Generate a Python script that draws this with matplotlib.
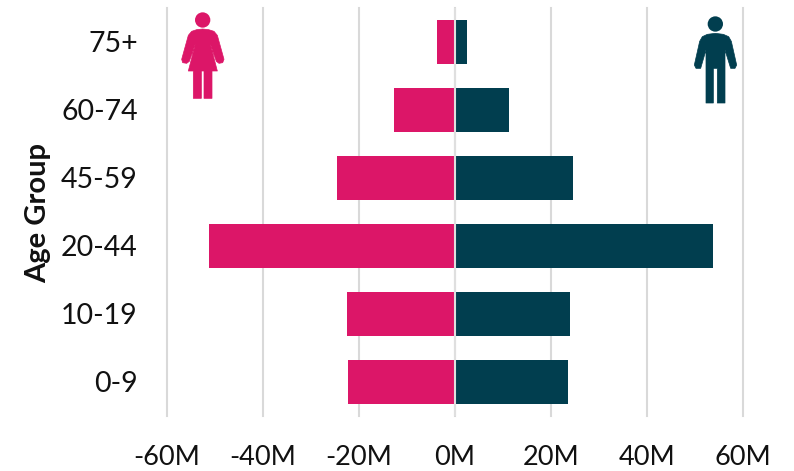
#!/usr/bin/env python3
import matplotlib
matplotlib.use('Agg')
import matplotlib.pyplot as plt
from matplotlib.patches import Circle, Polygon
from matplotlib.transforms import Affine2D

age_groups = ['0-9', '10-19', '20-44', '45-59', '60-74', '75+']
female = [-22.3, -22.5, -51.2, -24.6, -12.7, -3.75]
male = [23.5, 23.9, 53.7, 24.6, 11.2, 2.4]
x_ticks = [-60, -40, -20, 0, 20, 40, 60]
x_labels = ['-60M', '-40M', '-20M', '0M', '20M', '40M', '60M']

PINK = '#dc1668'
TEAL = '#013e4f'
W, H = 794, 471

plt.rcParams['font.family'] = ['Lato', 'DejaVu Sans']

fig = plt.figure(figsize=(W / 100, H / 100), dpi=100)
# axes box placed in pixels: x 167..743 spans -60M..60M, y 8..416
ax = fig.add_axes([167 / W, 1 - 416 / H, 576 / W, 408 / H])

ax.barh(age_groups, female, height=0.66, color=PINK, zorder=3)
ax.barh(age_groups, male, height=0.66, color=TEAL, zorder=3)
# the zero line sits in front of the bars
ax.axvline(0, color='#dfdfdf', lw=1.5, zorder=4)

ax.set_xlim(-60, 60)
ax.set_ylim(-0.5, 5.5)
ax.set_xticks(x_ticks)
ax.set_xticklabels(x_labels, fontsize=19.5, color='#111111')
ax.tick_params(axis='x', length=0, pad=21)
ax.tick_params(axis='y', length=0, pad=21, labelsize=20.5, labelcolor='#111111')
ax.grid(axis='x', color='#d9d9d9', lw=1.5, zorder=0)
ax.set_axisbelow(True)
for s in ax.spines.values():
    s.set_visible(False)
for gl in ax.get_xgridlines():
    gl.set_clip_on(False)

fig.text(38 / W, 1 - 213 / H, 'Age Group', rotation=90, ha='center', va='center',
         fontsize=21, fontweight='bold', color='#111111')

# icons, outlines traced in pixels from the top left of the figure
px = Affine2D().scale(1 / W, -1 / H).translate(0, 1) + fig.transFigure


def icon(head, r, outline, dx, color):
    pts = [(x / 3 + dx, y / 3) for x, y in outline]
    fig.add_artist(Polygon(pts, closed=True, facecolor=color, edgecolor=color, lw=0.5,
                           joinstyle='round', transform=px))
    fig.add_artist(Circle((head[0] / 3 + dx, head[1] / 3), r / 3, facecolor=color,
                          edgecolor='none', transform=px))


woman = [(110, 89), (128, 87), (146, 89), (162, 94), (172, 106), (192, 178), (188, 188),
         (177, 190), (169, 184), (151, 132), (172, 213), (156, 213), (156, 295), (132, 295),
         (132, 213), (124, 213), (124, 295), (100, 295), (100, 213), (85, 213), (106, 132),
         (88, 184), (80, 190), (68, 188), (65, 178), (85, 106), (95, 94)]
man = [(112, 103), (136, 100), (160, 103), (176, 110), (184, 124), (200, 195), (195, 205),
       (182, 205), (165, 150), (165, 309), (142, 309), (142, 205), (130, 205), (130, 309),
       (108, 309), (108, 150), (92, 205), (78, 205), (73, 195), (89, 124), (97, 110)]
icon((128, 60), 23, woman, 160, PINK)
icon((136, 72), 23, man, 670, TEAL)

fig.savefig('out.png', dpi=100)
plt.close()
